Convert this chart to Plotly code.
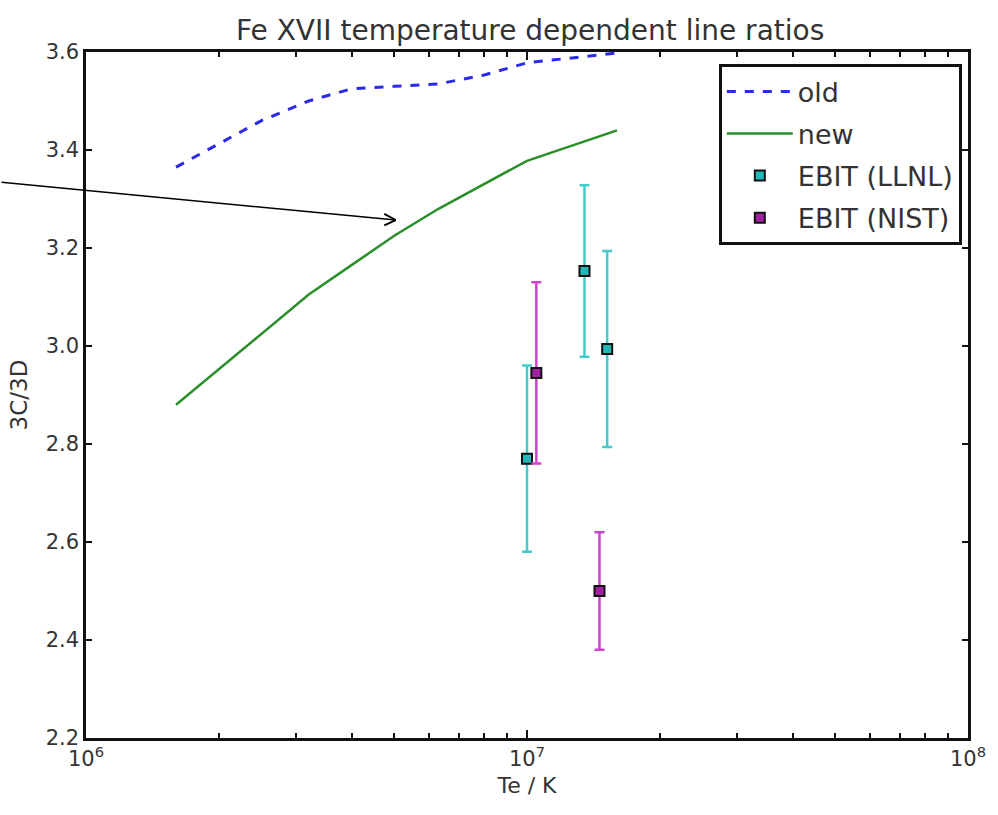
import plotly.graph_objects as go
import math

# Model curves
temp_grid = [1.6e6, 2.5e6, 3.2e6, 4.0e6, 5.0e6, 6.3e6, 8.0e6, 1.0e7, 1.6e7]
ratio_old = [3.365, 3.46, 3.50, 3.525, 3.530, 3.535, 3.553, 3.578, 3.598]
ratio_new = [2.88, 3.025, 3.105, 3.165, 3.225, 3.28, 3.33, 3.378, 3.44]

# EBIT measurements
llnl_temp = [1.0e7, 1.35e7, 1.52e7]
llnl_ratio = [2.77, 3.153, 2.994]
llnl_err = [0.19, 0.175, 0.20]

nist_temp = [1.05e7, 1.46e7]
nist_ratio = [2.945, 2.50]
nist_err = [0.185, 0.12]

x_tickvals = [1e6, 1e7, 1e8]
x_ticktext = ["10<sup>6</sup>", "10<sup>7</sup>", "10<sup>8</sup>"]
x_minor = [k * 10 ** d for d in (6, 7) for k in range(2, 10)]
y_tickvals = [2.2, 2.4, 2.6, 2.8, 3.0, 3.2, 3.4, 3.6]

FONT = "DejaVu Sans"
TXT = "#333333"

fig = go.Figure()
fig.add_trace(go.Scatter(x=temp_grid, y=ratio_old, mode="lines", name="old", legendgroup="a",
                         line=dict(color="#2a2ae8", width=3, dash="dash")))
fig.add_trace(go.Scatter(x=temp_grid, y=ratio_new, mode="lines", name="new", legendgroup="b",
                         line=dict(color="#2a8f2a", width=2.5)))
fig.add_trace(go.Scatter(x=llnl_temp, y=llnl_ratio, mode="markers", name="EBIT (LLNL)",
                         legendgroup="c",
                         marker=dict(symbol="square", size=10, color="#22b8b8",
                                     line=dict(color="#111111", width=2)),
                         error_y=dict(type="data", array=llnl_err, visible=True,
                                      color="#44cccc", thickness=2.5, width=5)))
fig.add_trace(go.Scatter(x=nist_temp, y=nist_ratio, mode="markers", name="EBIT (NIST)",
                         legendgroup="d",
                         marker=dict(symbol="square", size=10, color="#a020a0",
                                     line=dict(color="#111111", width=2)),
                         error_y=dict(type="data", array=nist_err, visible=True,
                                      color="#cc44cc", thickness=2.5, width=5)))

# arrow pointing at the "new" curve
tip_x = math.log10(5.04e6)
tip_y = 3.257
fig.add_annotation(x=tip_x, y=tip_y, xref="x", yref="y", text="", showarrow=True,
                   arrowhead=0, ax=-400, ay=-38, arrowwidth=1.5, arrowcolor="black",
                   standoff=0, startstandoff=0)
for dx, dy in [(-13, -7), (-13, 6)]:
    fig.add_annotation(x=tip_x, y=tip_y, xref="x", yref="y", text="", showarrow=True,
                       arrowhead=0, ax=dx, ay=dy, arrowwidth=1.8, arrowcolor="black",
                       standoff=0, startstandoff=0)

fig.update_layout(
    width=998, height=815,
    margin=dict(l=86, r=26, t=52, b=77),
    paper_bgcolor="white", plot_bgcolor="white",
    font=dict(family=FONT, color=TXT, size=20),
    title=dict(text="Fe XVII temperature dependent line ratios", x=0.5312, xanchor="center",
               y=0.963, yanchor="middle", font=dict(size=28, color=TXT)),
    showlegend=True,
    legend=dict(x=0.993, y=0.982, xanchor="right", yanchor="top",
                bordercolor="#111111", borderwidth=3, bgcolor="white",
                font=dict(size=27, color=TXT), itemwidth=66, tracegroupgap=4,
                traceorder="grouped"),
)
fig.update_xaxes(type="log", range=[6, 8], tickvals=x_tickvals, ticktext=x_ticktext,
                 ticks="inside", ticklen=8, tickwidth=2, tickcolor="#111111",
                 showline=True, linecolor="#111111", linewidth=2.5, mirror="ticks",
                 showgrid=False, zeroline=False,
                 minor=dict(tickvals=x_minor, ticks="inside", ticklen=5, tickwidth=1.5,
                            tickcolor="#111111", showgrid=False),
                 tickfont=dict(size=21, color=TXT),
                 title=dict(text="Te / K", font=dict(size=22, color=TXT), standoff=8))
fig.update_yaxes(range=[2.2, 3.6], tickvals=y_tickvals, tickformat=".1f",
                 ticks="inside", ticklen=6, tickwidth=2, tickcolor="#111111",
                 showline=True, linecolor="#111111", linewidth=2.5, mirror="ticks",
                 showgrid=False, zeroline=False,
                 tickfont=dict(size=21, color=TXT),
                 title=dict(text="3C/3D", font=dict(size=23, color=TXT), standoff=12))

fig.write_html("out.html")
